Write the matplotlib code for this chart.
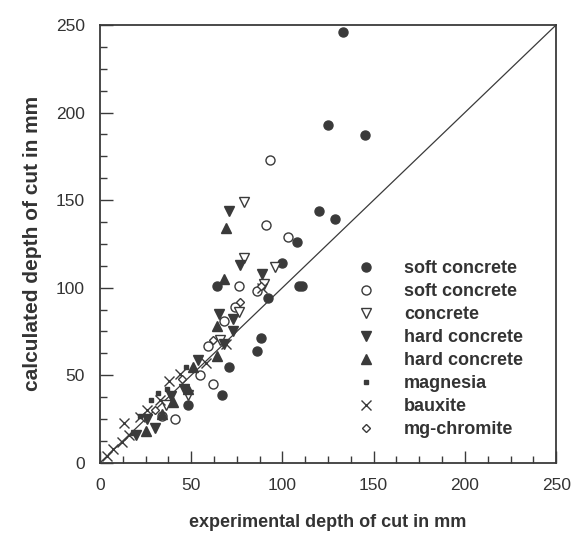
import matplotlib
matplotlib.use('Agg')
import matplotlib.pyplot as plt
from matplotlib.ticker import MultipleLocator

plt.rcParams['font.family'] = ['Liberation Sans', 'DejaVu Sans']

# values (mm)
soft_f_x = [133, 125, 145, 120, 129, 108, 100, 109, 111, 64, 92, 88, 86, 71, 67, 48]
soft_f_y = [246, 193, 187, 144, 139, 126, 114, 101, 101, 101, 94, 71, 64, 55, 39, 33]
soft_o_x = [93, 91, 103, 76, 86, 74, 68, 59, 55, 62, 41, 34]
soft_o_y = [173, 136, 129, 101, 98, 89, 81, 67, 50, 45, 25, 27]
conc_x = [79, 79, 96, 90, 76, 66, 48, 36]
conc_y = [149, 117, 112, 102, 86, 70, 39, 33]
hard_d_x = [71, 77, 89, 65, 73, 73, 68, 54, 46, 39, 30, 26, 20]
hard_d_y = [144, 113, 108, 85, 82, 75, 68, 59, 42, 38, 20, 25, 16]
hard_u_x = [69, 68, 64, 64, 51, 48, 25, 40, 34]
hard_u_y = [134, 105, 78, 61, 55, 42, 18, 35, 28]
magn_x = [32, 28, 47, 18, 37, 22]
magn_y = [40, 36, 55, 17, 42, 27]
baux_x = [4, 7, 12, 16, 13, 22, 26, 38, 44, 58, 69, 89, 33]
baux_y = [4, 8, 12, 16, 23, 26, 30, 47, 51, 57, 68, 100, 36]
mgch_x = [77, 88, 62, 45, 30]
mgch_y = [92, 101, 70, 48, 30]

col = '#3a3a3a'
txt = '#333333'

fig = plt.figure(figsize=(5.71, 5.42), dpi=100)
ax = fig.add_axes([0.175, 0.146, 0.799, 0.808])

ax.plot([0, 250], [0, 250], color=col, lw=0.9)

ax.plot(soft_f_x, soft_f_y, 'o', ms=6.5, color=col, mec=col, label='soft concrete')
ax.plot(soft_o_x, soft_o_y, 'o', ms=6.5, mfc='white', mec=col, mew=1.0, label='soft concrete')
ax.plot(conc_x, conc_y, 'v', ms=7.5, mfc='white', mec=col, mew=1.0, label='concrete')
ax.plot(hard_d_x, hard_d_y, 'v', ms=7.5, color=col, label='hard concrete')
ax.plot(hard_u_x, hard_u_y, '^', ms=7.5, color=col, label='hard concrete')
ax.plot(magn_x, magn_y, 's', ms=3.5, color=col, label='magnesia')
ax.plot(baux_x, baux_y, 'x', ms=7, color=col, mew=1.0, label='bauxite')
ax.plot(mgch_x, mgch_y, 'D', ms=4.5, mfc='white', mec=col, mew=1.0, label='mg-chromite')

ax.set_xlim(0, 250)
ax.set_ylim(0, 250)
ax.xaxis.set_major_locator(MultipleLocator(50))
ax.yaxis.set_major_locator(MultipleLocator(50))
ax.xaxis.set_minor_locator(MultipleLocator(12.5))
ax.yaxis.set_minor_locator(MultipleLocator(12.5))
ax.tick_params(which='both', direction='in', colors=col, labelcolor=txt, labelsize=12.5, top=False, right=False)
ax.tick_params(which='major', length=9, width=1, pad=11)
ax.tick_params(which='minor', length=5, width=1)
for s in ax.spines.values():
    s.set_color(col)
    s.set_linewidth(1.3)

ax.set_xlabel('experimental depth of cut in mm', fontsize=13, fontweight='bold', color=txt, labelpad=15)
ax.set_ylabel('calculated depth of cut in mm', fontsize=15, fontweight='bold', color=txt, labelpad=10)

fig.legend(loc='upper left', bbox_to_anchor=(0.625, 0.52), frameon=False, numpoints=1,
           handlelength=1.0, handletextpad=1.6, borderpad=0, borderaxespad=0,
           labelspacing=0.33, prop={'size': 13, 'weight': 'bold'}, labelcolor=txt)

plt.savefig('out.png', dpi=100)
